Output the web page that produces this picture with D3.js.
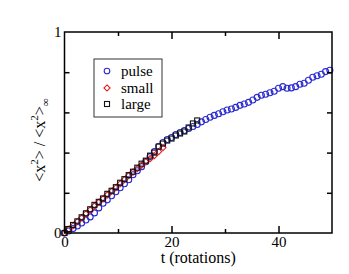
<!DOCTYPE html>
<html>
<head>
<meta charset="utf-8">
<script src="https://cdn.jsdelivr.net/npm/d3@7"></script>
<style>
  body { margin: 0; background: #fff; }
  svg { display: block; font-family: "Liberation Serif", "Times New Roman", "DejaVu Serif", serif; }
</style>
</head>
<body>
<svg id="chart"></svg>
<script>
// pulse (blue circles)
const pulseT = [0, 0.8, 1.6, 2.4, 3.2, 4, 4.8, 5.6, 6.4, 7.2, 8, 8.8, 9.6, 10.4, 11.2, 12, 12.8, 13.6, 14.4, 15.2,
  16, 16.8, 17.6, 18.4, 19.2, 20, 20.8, 21.6, 22.4, 23.2, 24, 24.8, 25.6, 26.4, 27.2, 28, 28.8, 29.6, 30.4, 31.2,
  32, 32.8, 33.6, 34.4, 35.2, 36, 36.8, 37.6, 38.4, 39.2, 40, 40.8, 41.6, 42.4, 43.2, 44, 44.8, 45.6, 46.4, 47.2,
  48, 48.8, 49.6];
const pulseY = [0, 0.01, 0.022, 0.035, 0.05, 0.065, 0.08, 0.1, 0.125, 0.148, 0.165, 0.185, 0.205, 0.225, 0.245, 0.265, 0.29, 0.31, 0.33, 0.355,
  0.38, 0.405, 0.43, 0.45, 0.465, 0.475, 0.49, 0.5, 0.51, 0.52, 0.53, 0.54, 0.553, 0.565, 0.576, 0.585, 0.593, 0.603, 0.612, 0.617,
  0.625, 0.635, 0.642, 0.65, 0.662, 0.675, 0.685, 0.69, 0.698, 0.705, 0.72, 0.728, 0.72, 0.722, 0.728, 0.74, 0.745, 0.76, 0.775, 0.782,
  0.79, 0.803, 0.81];

// small (red diamonds)
const smallT = [0, 0.8, 1.6, 2.4, 3.2, 4, 4.8, 5.6, 6.4, 7.2, 8, 8.8, 9.6, 10.4, 11.2, 12, 12.8, 13.6, 14.4, 15.2, 16, 16.8, 17.6, 18.4];
const smallY = [0, 0.018, 0.036, 0.056, 0.075, 0.095, 0.115, 0.135, 0.152, 0.17, 0.19, 0.207, 0.225, 0.245, 0.265, 0.285, 0.303, 0.32, 0.338, 0.355, 0.37, 0.385, 0.405, 0.425];

// large (black squares)
const largeT = [0, 0.8, 1.6, 2.4, 3.2, 4, 4.8, 5.6, 6.4, 7.2, 8, 8.8, 9.6, 10.4, 11.2, 12, 12.8, 13.6, 14.4, 15.2,
  16, 16.8, 17.6, 18.4, 19.2, 20, 20.8, 21.6, 22.4, 23.2, 24, 24.8];
const largeY = [0, 0.02, 0.04, 0.058, 0.078, 0.098, 0.118, 0.14, 0.155, 0.172, 0.195, 0.21, 0.228, 0.25, 0.268, 0.288, 0.305, 0.325, 0.345, 0.36,
  0.385, 0.4, 0.43, 0.445, 0.46, 0.47, 0.485, 0.495, 0.505, 0.525, 0.545, 0.56];

const seriesNames = ["pulse", "small", "large"];
const xMajor = [0, 20, 40];
const xMinor = [10, 30];
const yInner = [0.2, 0.4, 0.6, 0.8];
const yLabels = [0, 1];

const width = 349, height = 274;
const margin = { top: 32, left: 64.5, bottom: 41, right: 17 };
const serif = "'Liberation Serif', 'Times New Roman', 'DejaVu Serif', serif";

const svg = d3.select("#chart").attr("width", width).attr("height", height);

const x = d3.scaleLinear().domain([0, 50]).range([margin.left, width - margin.right]);
const y = d3.scaleLinear().domain([0, 1]).range([height - margin.bottom, margin.top]);

const zip = (ts, ys) => ts.map((t, i) => ({ t: t, v: ys[i] }));

//markers
const blue = "#2a2ad0", red = "#e02020";

svg.append("g").selectAll("circle")
  .data(zip(pulseT, pulseY))
  .enter().append("circle")
    .attr("cx", d => x(d.t))
    .attr("cy", d => y(d.v))
    .attr("r", 3)
    .attr("fill", "none")
    .attr("stroke", blue)
    .attr("stroke-width", 1.1);

const diamond = d3.symbol().type(d3.symbolDiamond2).size(24);
svg.append("g").selectAll("path")
  .data(zip(smallT, smallY))
  .enter().append("path")
    .attr("d", diamond)
    .attr("transform", d => `translate(${x(d.t)},${y(d.v)})`)
    .attr("fill", "none")
    .attr("stroke", red)
    .attr("stroke-width", 1.1);

svg.append("g").selectAll("rect")
  .data(zip(largeT, largeY))
  .enter().append("rect")
    .attr("x", d => x(d.t) - 2.5)
    .attr("y", d => y(d.v) - 2.5)
    .attr("width", 5)
    .attr("height", 5)
    .attr("fill", "none")
    .attr("stroke", "#111")
    .attr("stroke-width", 1.1);

//axes
const fs = "15px";
function clean(g) {
  g.select(".domain").remove();
  g.selectAll("line").attr("stroke", "#000").attr("stroke-width", 1.5);
  g.selectAll("text").attr("font-family", serif).attr("font-size", fs).attr("fill", "#000");
}
const yBot = height - margin.bottom, yTop = margin.top;
const xLeft = margin.left, xRight = width - margin.right;

svg.append("g").attr("transform", `translate(0,${yBot})`)
  .call(d3.axisBottom(x).tickValues(xMajor).tickSizeInner(-7).tickSizeOuter(0).tickPadding(3).tickFormat(d3.format("d")))
  .call(clean);
svg.append("g").attr("transform", `translate(0,${yBot})`)
  .call(d3.axisBottom(x).tickValues(xMinor).tickSizeInner(-4).tickSizeOuter(0).tickFormat(""))
  .call(clean);
svg.append("g").attr("transform", `translate(0,${yTop})`)
  .call(d3.axisTop(x).tickValues([20, 40]).tickSizeInner(-7).tickSizeOuter(0).tickFormat(""))
  .call(clean);
svg.append("g").attr("transform", `translate(0,${yTop})`)
  .call(d3.axisTop(x).tickValues(xMinor).tickSizeInner(-4).tickSizeOuter(0).tickFormat(""))
  .call(clean);
svg.append("g").attr("transform", `translate(${xLeft},0)`)
  .call(d3.axisLeft(y).tickValues(yInner).tickSizeInner(-5).tickSizeOuter(0).tickFormat(""))
  .call(clean);
svg.append("g").attr("transform", `translate(${xLeft},0)`)
  .call(d3.axisLeft(y).tickValues(yLabels).tickSize(0).tickPadding(3).tickFormat(d3.format("d")))
  .call(clean);
svg.append("g").attr("transform", `translate(${xRight},0)`)
  .call(d3.axisRight(y).tickValues(yInner).tickSizeInner(-5).tickSizeOuter(0).tickFormat(""))
  .call(clean);

svg.append("rect")
  .attr("x", xLeft).attr("y", yTop)
  .attr("width", xRight - xLeft).attr("height", yBot - yTop)
  .attr("fill", "none").attr("stroke", "#000").attr("stroke-width", 1.5);

//titles
svg.append("text")
  .attr("x", (xLeft + xRight) / 2)
  .attr("y", 263)
  .attr("text-anchor", "middle")
  .attr("font-family", serif)
  .attr("font-size", "16px")
  .text("t (rotations)");

const yl = svg.append("text")
  .attr("transform", `translate(45,140) rotate(-90)`)
  .attr("text-anchor", "middle")
  .attr("font-family", serif)
  .attr("font-size", "16px");
yl.append("tspan").text("<x");
yl.append("tspan").attr("font-size", "11px").attr("dy", -7).text("2");
yl.append("tspan").attr("dy", 7).text("> / <x");
yl.append("tspan").attr("font-size", "11px").attr("dy", -7).text("2");
yl.append("tspan").attr("dy", 7).text(">");
yl.append("tspan").attr("font-size", "11px").attr("dy", 4).text("∞");

//legend
const lg = svg.append("g");
lg.append("rect")
  .attr("x", 94).attr("y", 59).attr("width", 68).attr("height", 58)
  .attr("fill", "#fff").attr("stroke", "#333").attr("stroke-width", 1);
const rowY = [71, 88, 104];
lg.append("circle").attr("cx", 107).attr("cy", rowY[0]).attr("r", 2.8)
  .attr("fill", "none").attr("stroke", blue).attr("stroke-width", 1.1);
lg.append("path").attr("d", diamond).attr("transform", `translate(107,${rowY[1]})`)
  .attr("fill", "none").attr("stroke", red).attr("stroke-width", 1.1);
lg.append("rect").attr("x", 104.5).attr("y", rowY[2] - 2.5).attr("width", 5).attr("height", 5)
  .attr("fill", "none").attr("stroke", "#111").attr("stroke-width", 1.1);
seriesNames.forEach((n, i) => {
  lg.append("text")
    .attr("x", 121).attr("y", rowY[i] + 5)
    .attr("font-family", serif)
    .attr("font-size", fs)
    .text(n);
});
</script>
</body>
</html>
